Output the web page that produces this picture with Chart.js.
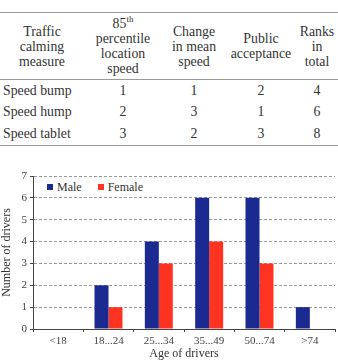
<!DOCTYPE html>
<html><head><meta charset="utf-8">
<script src="https://cdn.jsdelivr.net/npm/chart.js@4"></script>
<style>
html,body{margin:0;padding:0;background:#fff;width:338px;height:361px;overflow:hidden;font-family:"Liberation Serif",serif;color:#333;}
#tbl{position:absolute;left:0;top:12px;width:338px;border-collapse:collapse;font-size:13.8px;}
#tbl th{font-weight:normal;line-height:15px;padding:3px 0 3px 0;text-align:center;vertical-align:middle;border-top:1.5px solid #999;border-bottom:1.5px solid #999;}
#tbl td{text-align:center;height:21.5px;padding:0;}
#tbl td.first{text-align:left;padding-left:3px;}
#tbl tr:last-child td{border-bottom:1.5px solid #999;}
sup{font-size:9px;line-height:0;}
#wrap{position:absolute;left:0;top:160px;width:338px;height:201px;}
#legend{position:absolute;left:47px;top:180px;font-size:12px;line-height:14px;color:#333;white-space:nowrap;background:#fff;padding:0 2px 0 0;}
#legend span.sw{display:inline-block;width:6px;height:6px;margin-right:4px;vertical-align:1px;}
#legend span.item{margin-right:16px;}
#legend span.item:last-child{margin-right:0;}
</style></head><body>
<table id="tbl"></table>
<div id="wrap"><canvas id="c" width="338" height="201"></canvas></div>
<div id="legend"></div>
<script>
const tableHeaders = ['Traffic<br>calming<br>measure','85<sup>th</sup><br>percentile<br>location<br>speed','Change<br>in mean<br>speed','Public<br>acceptance','Ranks<br>in<br>total'];
const measures = ['Speed bump','Speed hump','Speed tablet'];
const percentileRank = [1,2,3];
const meanSpeedRank = [1,3,2];
const acceptanceRank = [2,1,3];
const totalRank = [4,6,8];

const ageGroups = ['<18','18...24','25...34','35...49','50...74','>74'];
const maleDrivers = [0,2,4,6,6,1];
const femaleDrivers = [0,1,3,4,3,0];

const colW = [84,78,64,70,42];
let html = '<tr>' + tableHeaders.map((h,i)=>`<th style="width:${colW[i]}px">${h}</th>`).join('') + '</tr>';
measures.forEach((m,i)=>{
  html += `<tr><td class="first">${m}</td><td>${percentileRank[i]}</td><td>${meanSpeedRank[i]}</td><td>${acceptanceRank[i]}</td><td>${totalRank[i]}</td></tr>`;
});
document.getElementById('tbl').innerHTML = html;

const serif = '"Liberation Serif", serif';

const chart = new Chart(document.getElementById('c'), {
  type: 'bar',
  data: {
    labels: ageGroups,
    datasets: [
      {label:'Male', data: maleDrivers, backgroundColor:'#1b2a90'},
      {label:'Female', data: femaleDrivers, backgroundColor:'#ff3322'}
    ]
  },
  options: {
    responsive:false, animation:false,
    layout:{padding:{top:16,right:3,left:0,bottom:0}},
    datasets:{bar:{categoryPercentage:0.556, barPercentage:1.0}},
    plugins:{
      tooltip:{enabled:false},
      legend:{display:false}
    },
    scales:{
      x:{
        grid:{display:true, drawOnChartArea:false, drawTicks:true, tickLength:3, color:'#444', offset:true},
        border:{color:'#444', width:1},
        ticks:{font:{family:serif,size:11}, color:'#444', padding:3},
        title:{display:true, text:'Age of drivers', font:{family:serif,size:12}, color:'#333', padding:{top:0,bottom:0}},
        afterFit(s){ s.height = 32; }
      },
      y:{
        min:0, max:7,
        ticks:{stepSize:1, font:{family:serif,size:11}, color:'#444', padding:3},
        grid:{color:'#999', tickLength:3, tickColor:'#444', tickBorderDash:[]},
        border:{color:'#444', dash:[3,2], width:1},
        title:{display:true, text:'Number of drivers', font:{family:serif,size:12}, color:'#333', padding:{top:0,bottom:2}},
        afterFit(s){ s.width = 33; }
      }
    }
  }
});

document.getElementById('legend').innerHTML = chart.data.datasets.map(ds =>
  `<span class="item"><span class="sw" style="background:${ds.backgroundColor}"></span>${ds.label}</span>`
).join('');
</script>
</body></html>
